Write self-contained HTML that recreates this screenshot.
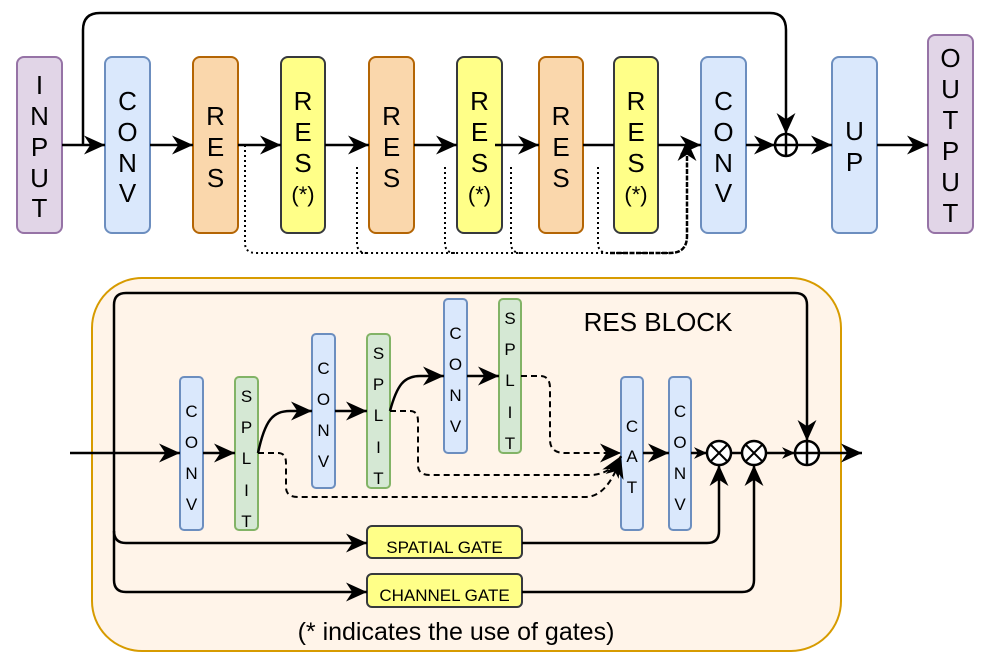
<!DOCTYPE html>
<html><head><meta charset="utf-8"><style>html,body{margin:0;padding:0;background:#fff}svg{display:block}text{font-family:"Liberation Sans",sans-serif;text-anchor:middle;fill:#000}</style></head><body>
<svg width="995" height="662" viewBox="0 0 995 662" xmlns="http://www.w3.org/2000/svg">
<defs>
<marker id="a" viewBox="0 0 10 10" refX="10" refY="5" markerWidth="21" markerHeight="21" markerUnits="userSpaceOnUse" orient="auto"><path d="M0,0.5 L10,5 L0,9.5 L3,5 z" fill="#000"/></marker>
<marker id="s" viewBox="0 0 10 10" refX="10" refY="5" markerWidth="13" markerHeight="13" markerUnits="userSpaceOnUse" orient="auto"><path d="M0,0.5 L10,5 L0,9.5 L3,5 z" fill="#000"/></marker>
</defs>
<g stroke-width="2">
<rect x="17" y="57" width="45" height="176" rx="7" fill="#e1d5e7" stroke="#9673a6"/>
<rect x="105" y="57" width="45" height="176" rx="7" fill="#dae8fc" stroke="#6c8ebf"/>
<rect x="193" y="57" width="45" height="176" rx="7" fill="#fad7ac" stroke="#b46504"/>
<rect x="281" y="57" width="44" height="176" rx="7" fill="#ffff88" stroke="#36393d"/>
<rect x="369" y="57" width="45" height="176" rx="7" fill="#fad7ac" stroke="#b46504"/>
<rect x="457" y="57" width="45" height="176" rx="7" fill="#ffff88" stroke="#36393d"/>
<rect x="539" y="57" width="44" height="176" rx="7" fill="#fad7ac" stroke="#b46504"/>
<rect x="614" y="57" width="44" height="176" rx="7" fill="#ffff88" stroke="#36393d"/>
<rect x="701" y="57" width="45" height="176" rx="7" fill="#dae8fc" stroke="#6c8ebf"/>
<rect x="832" y="57" width="45" height="176" rx="7" fill="#dae8fc" stroke="#6c8ebf"/>
<rect x="928" y="35" width="45" height="198" rx="7" fill="#e1d5e7" stroke="#9673a6"/>
</g>
<g font-size="26">
<text x="39.5" y="94">I</text><text x="39.5" y="125">N</text><text x="39.5" y="156">P</text><text x="39.5" y="187">U</text><text x="39.5" y="217">T</text>
<text x="127.5" y="110">C</text><text x="127.5" y="141">O</text><text x="127.5" y="172">N</text><text x="127.5" y="202">V</text>
<text x="215.5" y="125">R</text><text x="215.5" y="156">E</text><text x="215.5" y="187">S</text>
<text x="303" y="110">R</text><text x="303" y="141">E</text><text x="303" y="172">S</text><text x="303" y="202" font-size="22">(*)</text>
<text x="391.5" y="125">R</text><text x="391.5" y="156">E</text><text x="391.5" y="187">S</text>
<text x="479.5" y="110">R</text><text x="479.5" y="141">E</text><text x="479.5" y="172">S</text><text x="479.5" y="202" font-size="22">(*)</text>
<text x="561" y="125">R</text><text x="561" y="156">E</text><text x="561" y="187">S</text>
<text x="636" y="110">R</text><text x="636" y="141">E</text><text x="636" y="172">S</text><text x="636" y="202" font-size="22">(*)</text>
<text x="723.5" y="110">C</text><text x="723.5" y="141">O</text><text x="723.5" y="172">N</text><text x="723.5" y="202">V</text>
<text x="854.5" y="140">U</text><text x="854.5" y="171">P</text>
<text x="950.5" y="67">O</text><text x="950.5" y="98">U</text><text x="950.5" y="129">T</text><text x="950.5" y="160">P</text><text x="950.5" y="191">U</text><text x="950.5" y="222">T</text>
</g>
<g fill="none" stroke="#000" stroke-width="2.5">
<path d="M62,145 H105" marker-end="url(#a)"/>
<path d="M83,145 V30 Q83,13 100,13 H770 Q786,13 786,30 V134" marker-end="url(#a)"/>
<path d="M150,145 H193" marker-end="url(#a)"/>
<path d="M238,145 H281" marker-end="url(#a)"/>
<path d="M325,145 H369" marker-end="url(#a)"/>
<path d="M414,145 H457" marker-end="url(#a)"/>
<path d="M495,145 H539" marker-end="url(#a)"/>
<path d="M583,145 H614"/>
<path d="M658,145 H701" marker-end="url(#a)"/>
<path d="M746,145 H775" marker-end="url(#a)"/>
<path d="M797,145 H832" marker-end="url(#a)"/>
<path d="M877,145 H928" marker-end="url(#a)"/>
<circle cx="786" cy="145" r="11" fill="#fff"/>
<path d="M775,145 H797 M786,134 V156"/>
</g>
<g fill="none" stroke="#000" stroke-width="2" stroke-dasharray="2,3">
<path d="M245,145 V243 Q245,253 256,253 H670"/>
<path d="M357,167 V243 Q357,253 367,253"/>
<path d="M445,167 V243 Q445,253 455,253"/>
<path d="M511,167 V243 Q511,253 521,253"/>
<path d="M598,167 V243 Q598,253 608,253"/>
</g>
<path d="M610,253 H670 Q687,253 687,236 V140" fill="none" stroke="#000" stroke-width="2.5" stroke-dasharray="5,1.5" marker-end="url(#a)"/>
<rect x="92" y="278" width="749" height="373" rx="50" fill="#fff4e9" stroke="#d79b00" stroke-width="2"/>
<g stroke-width="2">
<rect x="180" y="377" width="23" height="153" rx="4" fill="#dae8fc" stroke="#6c8ebf"/>
<rect x="235" y="377" width="23" height="153" rx="4" fill="#d5e8d4" stroke="#82b366"/>
<rect x="312" y="334" width="23" height="154" rx="4" fill="#dae8fc" stroke="#6c8ebf"/>
<rect x="367" y="334" width="23" height="154" rx="4" fill="#d5e8d4" stroke="#82b366"/>
<rect x="444" y="299" width="23" height="154" rx="4" fill="#dae8fc" stroke="#6c8ebf"/>
<rect x="499" y="299" width="22" height="154" rx="4" fill="#d5e8d4" stroke="#82b366"/>
<rect x="621" y="377" width="22" height="153" rx="4" fill="#dae8fc" stroke="#6c8ebf"/>
<rect x="669" y="377" width="22" height="153" rx="4" fill="#dae8fc" stroke="#6c8ebf"/>
<rect x="367" y="526" width="155" height="32" rx="5" fill="#ffff88" stroke="#36393d"/>
<rect x="367" y="574" width="155" height="33" rx="5" fill="#ffff88" stroke="#36393d"/>
</g>
<g font-size="17">
<text x="191.5" y="417">C</text><text x="191.5" y="448">O</text><text x="191.5" y="479">N</text><text x="191.5" y="510">V</text>
<text x="246.5" y="402">S</text><text x="246.5" y="433">P</text><text x="246.5" y="464">L</text><text x="246.5" y="496">I</text><text x="246.5" y="527">T</text>
<text x="323.5" y="374">C</text><text x="323.5" y="405">O</text><text x="323.5" y="436">N</text><text x="323.5" y="467">V</text>
<text x="378.5" y="359">S</text><text x="378.5" y="390">P</text><text x="378.5" y="421">L</text><text x="378.5" y="453">I</text><text x="378.5" y="484">T</text>
<text x="455.5" y="339">C</text><text x="455.5" y="370">O</text><text x="455.5" y="401">N</text><text x="455.5" y="432">V</text>
<text x="510" y="324">S</text><text x="510" y="355">P</text><text x="510" y="386">L</text><text x="510" y="418">I</text><text x="510" y="449">T</text>
<text x="632" y="432">C</text><text x="632" y="462">A</text><text x="632" y="493">T</text>
<text x="680" y="417">C</text><text x="680" y="448">O</text><text x="680" y="479">N</text><text x="680" y="510">V</text>
<text x="444.5" y="553" font-size="17">SPATIAL GATE</text>
<text x="444.5" y="601" font-size="17">CHANNEL GATE</text>
</g>
<text x="658" y="331" font-size="26">RES BLOCK</text>
<text x="456" y="640" font-size="25">(* indicates the use of gates)</text>
<g fill="none" stroke="#000" stroke-width="2.5">
<path d="M70,453 H180" marker-end="url(#a)"/>
<path d="M114,453 V305 Q114,293 126,293 H795 Q807,293 807,305 V441" marker-end="url(#a)"/>
<path d="M114,453 V531 Q114,543 126,543 H367" marker-end="url(#a)"/>
<path d="M114,531 V580 Q114,592 126,592 H367" marker-end="url(#a)"/>
<path d="M203,453 H235" marker-end="url(#a)"/>
<path d="M258,453 C265,420 273,411 290,411 H312" marker-end="url(#a)"/>
<path d="M335,411 H367" marker-end="url(#a)"/>
<path d="M390,411 C397,385 404,376 420,376 H444" marker-end="url(#a)"/>
<path d="M467,376 H499" marker-end="url(#a)"/>
<path d="M643,453 H669" marker-end="url(#a)"/>
<path d="M691,453 H707" marker-end="url(#s)"/>
<path d="M731,453 H742"/>
<path d="M766,453 H795" marker-end="url(#s)"/>
<path d="M819,453 H862" marker-end="url(#a)"/>
<path d="M522,543 H707 Q719,543 719,531 V465" marker-end="url(#a)"/>
<path d="M522,592 H742 Q754,592 754,580 V465" marker-end="url(#a)"/>
</g>
<g fill="none" stroke="#000" stroke-width="2" stroke-dasharray="6,4">
<path d="M521,376 H540 Q550,376 550,388 V440 Q550,453 565,453 H621" marker-end="url(#a)"/>
<path d="M390,411 H410 Q418,411 418,421 V465 Q418,475 430,475 H590 Q610,475 621,456" marker-end="url(#a)"/>
<path d="M258,453 H278 Q286,453 286,463 V487 Q286,497 298,497 H585 Q608,497 621,457" marker-end="url(#a)"/>
</g>
<g fill="#fff" stroke="#000" stroke-width="2.5">
<circle cx="719" cy="453" r="12"/><circle cx="754" cy="453" r="12"/><circle cx="807" cy="453" r="12"/>
</g>
<g stroke="#000" stroke-width="2">
<path d="M710.5,444.5 L727.5,461.5 M727.5,444.5 L710.5,461.5"/>
<path d="M745.5,444.5 L762.5,461.5 M762.5,444.5 L745.5,461.5"/>
<path d="M795,453 H819 M807,441 V465" stroke-width="2.5"/>
</g>
</svg>
</body></html>
